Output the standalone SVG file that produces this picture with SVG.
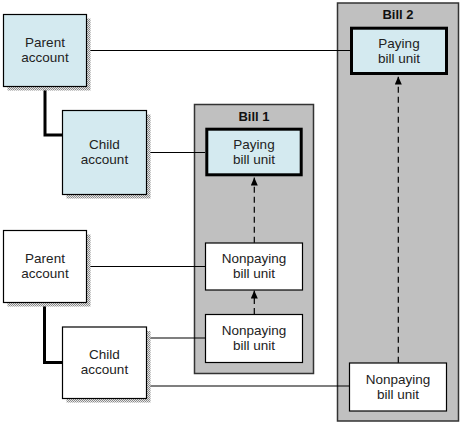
<svg xmlns="http://www.w3.org/2000/svg" width="461" height="425" viewBox="0 0 461 425">
<style>
.bill{fill:#c0c0c0;stroke:#333;stroke-width:1.5}
.acct{fill:#d4eaf0;stroke:#000;stroke-width:1.2}
.acctw{fill:#fff;stroke:#000;stroke-width:1.2}
.pay{fill:#d4eaf0;stroke:#000;stroke-width:3}
.np{fill:#fff;stroke:#000;stroke-width:1.2}
.shadow{fill:url(#chk)}
.t{font-family:"Liberation Sans",Arial,sans-serif;font-size:13.5px;fill:#222;text-anchor:middle}
.tb{font-family:"Liberation Sans",Arial,sans-serif;font-size:13px;font-weight:bold;fill:#111;text-anchor:middle}
.ln{stroke:#000;stroke-width:1.2;fill:none}
.thick{stroke:#000;stroke-width:3;fill:none}
.dash{stroke:#000;stroke-width:1.2;fill:none;stroke-dasharray:6 4;marker-end:url(#ah)}
</style>
<defs>
<pattern id="chk" width="2" height="2" patternUnits="userSpaceOnUse">
<rect width="2" height="2" fill="#e8e8e8"/>
<rect width="1" height="1" fill="#8a8a8a"/>
<rect x="1" y="1" width="1" height="1" fill="#8a8a8a"/>
</pattern>
<marker id="ah" markerWidth="8" markerHeight="8" refX="8" refY="3.5" orient="auto" markerUnits="userSpaceOnUse">
<path d="M0,0 L8,3.5 L0,7 z" fill="#000"/>
</marker>
</defs>
<rect width="461" height="425" fill="#fff"/>

<g id="bill1">
<rect class="bill" x="194.5" y="104.5" width="119" height="269"/>
<text class="tb" x="254" y="121">Bill 1</text>
</g>
<g id="bill2">
<rect class="bill" x="337.5" y="3" width="121" height="418"/>
<text class="tb" x="398" y="18.5">Bill 2</text>
</g>

<g id="connectors">
<line class="ln" x1="87" y1="50.5" x2="350" y2="50.5"/>
<polyline class="thick" points="45,86 45,135 63,135"/>
<line class="ln" x1="147" y1="152.5" x2="205" y2="152.5"/>
<line class="ln" x1="87" y1="266.5" x2="205" y2="266.5"/>
<polyline class="thick" points="44.5,302 44.5,362.5 63,362.5"/>
<line class="ln" x1="147" y1="338" x2="205" y2="338"/>
<line class="ln" x1="147" y1="386" x2="349" y2="386"/>
<line class="dash" x1="254.3" y1="242.7" x2="254.3" y2="177.5"/>
<line class="dash" x1="254.3" y1="314" x2="254.3" y2="290.5"/>
<line class="dash" x1="398.3" y1="362.7" x2="398.3" y2="76.5"/>
</g>

<g id="parent1">
<rect class="shadow" x="7.5" y="18.5" width="83" height="72"/>
<rect class="acct" x="3.5" y="14.5" width="83" height="72"/>
<text class="t" x="45" y="46.5">Parent</text>
<text class="t" x="45" y="62">account</text>
</g>
<g id="child1">
<rect class="shadow" x="66.5" y="114.5" width="84" height="84"/>
<rect class="acct" x="62.5" y="110.5" width="84" height="84"/>
<text class="t" x="104.5" y="148.5">Child</text>
<text class="t" x="104.5" y="164">account</text>
</g>
<g id="parent2">
<rect class="shadow" x="7.5" y="234.5" width="83" height="72"/>
<rect class="acctw" x="3.5" y="230.5" width="83" height="72"/>
<text class="t" x="45" y="262.5">Parent</text>
<text class="t" x="45" y="278">account</text>
</g>
<g id="child2">
<rect class="shadow" x="66.5" y="331" width="84" height="71.5"/>
<rect class="acctw" x="62.5" y="327" width="84" height="71.5"/>
<text class="t" x="104.5" y="358.5">Child</text>
<text class="t" x="104.5" y="374">account</text>
</g>

<g id="pay1">
<rect class="pay" x="206.8" y="129.2" width="94.4" height="45.6"/>
<text class="t" x="254" y="148.5">Paying</text>
<text class="t" x="254" y="163.5">bill unit</text>
</g>
<g id="np1">
<rect class="np" x="205.5" y="243" width="97" height="47"/>
<text class="t" x="254" y="263">Nonpaying</text>
<text class="t" x="254" y="278">bill unit</text>
</g>
<g id="np2">
<rect class="np" x="205.5" y="314.5" width="97" height="48"/>
<text class="t" x="254" y="335">Nonpaying</text>
<text class="t" x="254" y="350">bill unit</text>
</g>
<g id="pay2">
<rect class="pay" x="351.5" y="28.2" width="95" height="45.3"/>
<text class="t" x="399" y="47.5">Paying</text>
<text class="t" x="399" y="62.5">bill unit</text>
</g>
<g id="np3">
<rect class="np" x="349.5" y="363" width="97" height="48"/>
<text class="t" x="398" y="383.5">Nonpaying</text>
<text class="t" x="398" y="398.5">bill unit</text>
</g>
</svg>
